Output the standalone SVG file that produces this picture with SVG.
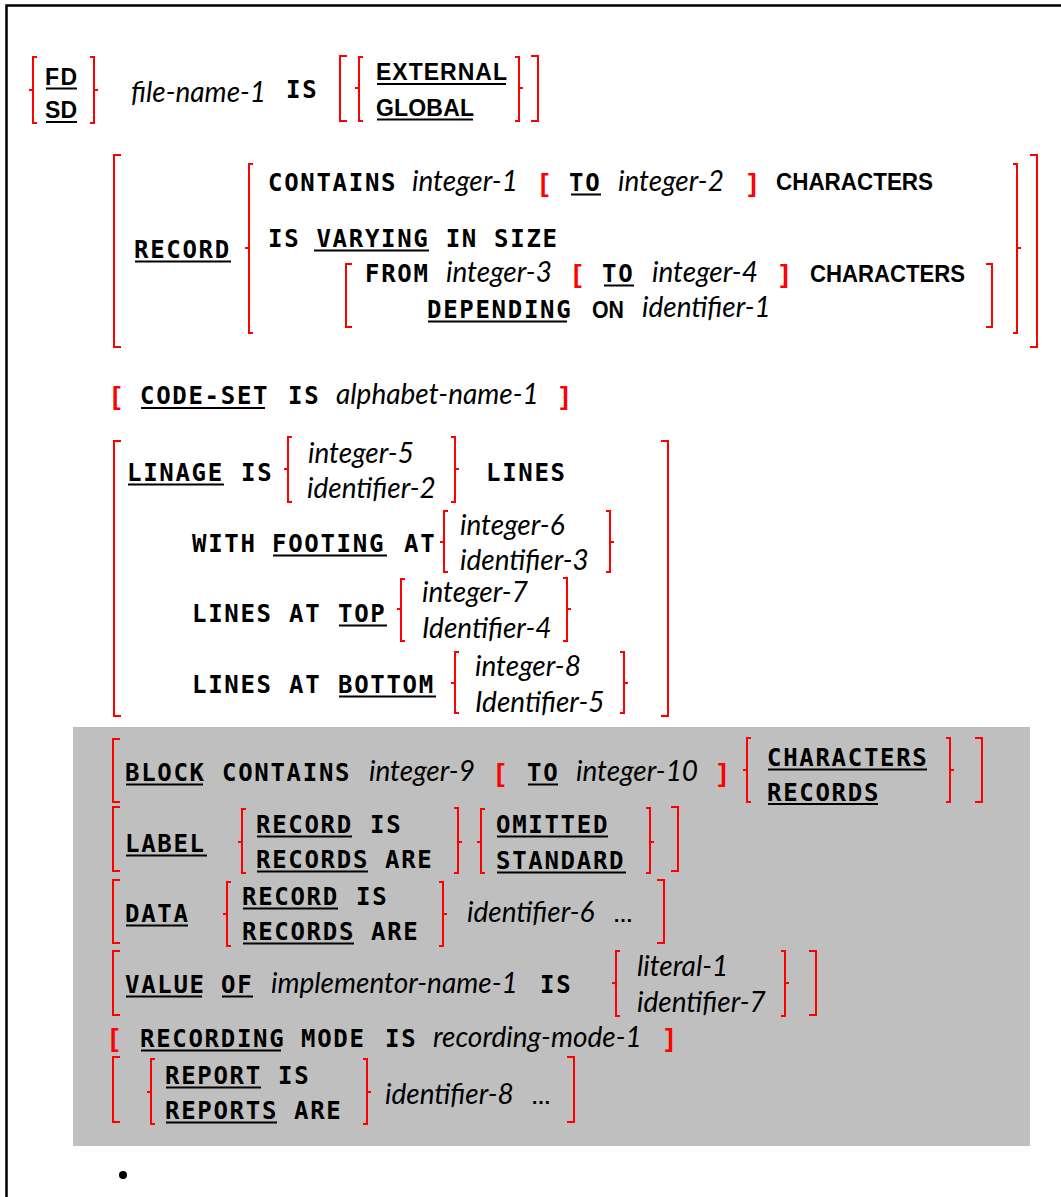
<svg xmlns="http://www.w3.org/2000/svg" width="1061" height="1197" viewBox="0 0 1061 1197">
  <style>
    .k { font-family: "DejaVu Sans Mono", monospace; font-weight: bold; font-size: 24px; letter-spacing: 1.7px; fill: #000; }
    .c { font-family: "Liberation Sans", Arial, sans-serif; font-weight: bold; font-size: 24px; fill: #000; }
    .h { font-family: "Liberation Sans", Arial, sans-serif; font-weight: bold; font-size: 23px; fill: #000; }
    .v { font-family: Lato, "Open Sans", sans-serif; font-style: italic; font-size: 28px; fill: #000; }
    .dots { font-family: "Liberation Sans", Arial, sans-serif; font-weight: bold; font-size: 20px; fill: #000; }
    .rb { font-family: "Liberation Sans", Arial, sans-serif; font-weight: bold; font-size: 26px; fill: #ff0000; }
    .br { fill: none; stroke: #ff0000; stroke-width: 2; }
    .u { fill: #000; }
  </style>

  <!-- page frame -->
  <path d="M6.5,1197V5.5H1061" fill="none" stroke="#000" stroke-width="2.5"/>

  <!-- shaded block of obsolete clauses -->
  <rect id="obsolete-area" x="73" y="727" width="957" height="419" fill="#bfbfbf"/>

  <!-- FD / SD header -->
  <g id="header">
    <path class="br" d="M37,57H33V123H37M33,90H29M90,57H94V123H90M94,90H98"/>
    <text class="h" x="45" y="85" textLength="32" lengthAdjust="spacing">FD</text>
    <rect class="u" x="46" y="87.5" width="31" height="2"/>
    <text class="h" x="45" y="118" textLength="32" lengthAdjust="spacing">SD</text>
    <rect class="u" x="46" y="121" width="31" height="2"/>
    <text class="v" x="131" y="102">file-name-1</text>
    <text class="k" x="286" y="98">IS</text>
    <path class="br" d="M347,56H340V121H347M363,57H359V121H363M359,88H355M515,57H519V121H515M519,88H523M531,56H538V121H531"/>
    <text class="h" x="376" y="80" textLength="131" lengthAdjust="spacing">EXTERNAL</text>
    <rect class="u" x="377" y="83" width="129" height="2"/>
    <text class="h" x="376" y="116" textLength="98" lengthAdjust="spacing">GLOBAL</text>
    <rect class="u" x="377" y="118.5" width="96" height="2"/>
  </g>

  <!-- RECORD clause -->
  <g id="record-clause">
    <path class="br" d="M121,155H114V347H121M253,164H249V333H253M249,248H245M352,264H346V327H352M986,264H992V327H986M1013,164H1017V333H1013M1017,248H1021M1030,155H1037V347H1030"/>
    <text class="k" x="134" y="258">RECORD</text>
    <rect class="u" x="135" y="260.5" width="96" height="2"/>
    <text class="k" x="268" y="191">CONTAINS</text>
    <text class="v" x="412" y="191">integer-1</text>
    <text class="rb" x="540" y="192">[</text>
    <text class="k" x="569" y="191">TO</text>
    <rect class="u" x="571" y="193.5" width="30" height="2"/>
    <text class="v" x="618" y="191">integer-2</text>
    <text class="rb" x="748" y="192">]</text>
    <text class="c" x="776" y="190" textLength="157" lengthAdjust="spacingAndGlyphs">CHARACTERS</text>
    <text class="k" x="268" y="247">IS VARYING IN SIZE</text>
    <rect class="u" x="314" y="249.5" width="115" height="2"/>
    <text class="k" x="365" y="282">FROM</text>
    <text class="v" x="446" y="282">integer-3</text>
    <text class="rb" x="573" y="283">[</text>
    <text class="k" x="602" y="282">TO</text>
    <rect class="u" x="604" y="284.5" width="30" height="2"/>
    <text class="v" x="652" y="282">integer-4</text>
    <text class="rb" x="780" y="283">]</text>
    <text class="c" x="810" y="282" textLength="155" lengthAdjust="spacingAndGlyphs">CHARACTERS</text>
    <text class="k" x="427" y="318">DEPENDING</text>
    <rect class="u" x="428" y="320.5" width="139" height="2"/>
    <text class="c" x="592" y="318" textLength="32" lengthAdjust="spacingAndGlyphs">ON</text>
    <text class="v" x="642" y="317">identifier-1</text>
  </g>

  <!-- CODE-SET clause -->
  <g id="code-set-clause">
    <text class="rb" x="112" y="405">[</text>
    <text class="k" x="140" y="404">CODE-SET</text>
    <rect class="u" x="141" y="407" width="124" height="2"/>
    <text class="k" x="288" y="404">IS</text>
    <text class="v" x="336" y="404">alphabet-name-1</text>
    <text class="rb" x="560" y="405">]</text>
  </g>

  <!-- LINAGE clause -->
  <g id="linage-clause">
    <path class="br" d="M121,441H114V716H121M661,441H668V716H661"/>
    <path class="br" d="M292,437H288V502H292M288,469H284M451,437H455V502H451M455,469H459"/>
    <path class="br" d="M448,511H444V572H448M444,542H440M606,511H610V572H606M610,542H614"/>
    <path class="br" d="M405,579H401V641H405M401,609H397M563,578H567V641H563M567,609H571"/>
    <path class="br" d="M459,652H455V713H459M455,683H451M620,652H624V713H620M624,683H628"/>
    <text class="k" x="127" y="481">LINAGE</text>
    <rect class="u" x="128" y="483.5" width="96" height="2"/>
    <text class="k" x="241" y="481">IS</text>
    <text class="v" x="308" y="463">integer-5</text>
    <text class="v" x="307" y="498">identifier-2</text>
    <text class="k" x="486" y="481">LINES</text>
    <text class="k" x="192" y="552">WITH</text>
    <text class="k" x="272" y="552">FOOTING</text>
    <rect class="u" x="273" y="554.5" width="114" height="2"/>
    <text class="k" x="404" y="552">AT</text>
    <text class="v" x="460" y="535">integer-6</text>
    <text class="v" x="460" y="570">identifier-3</text>
    <text class="k" x="192" y="622">LINES</text>
    <text class="k" x="289" y="622">AT</text>
    <text class="k" x="338" y="622">TOP</text>
    <rect class="u" x="339" y="624.5" width="48" height="2"/>
    <text class="v" x="422" y="602">integer-7</text>
    <text class="v" x="422" y="638">Identifier-4</text>
    <text class="k" x="192" y="693">LINES</text>
    <text class="k" x="289" y="693">AT</text>
    <text class="k" x="338" y="693">BOTTOM</text>
    <rect class="u" x="339" y="695.5" width="97" height="2"/>
    <text class="v" x="475" y="676">integer-8</text>
    <text class="v" x="475" y="712">Identifier-5</text>
  </g>

  <!-- BLOCK CONTAINS clause -->
  <g id="block-clause">
    <path class="br" d="M120,739H113V802H120M751,738H747V802H751M747,770H743M946,738H950V802H946M950,770H954M975,738H982V802H975"/>
    <text class="k" x="125" y="781">BLOCK</text>
    <rect class="u" x="126" y="783.5" width="77" height="2"/>
    <text class="k" x="222" y="781">CONTAINS</text>
    <text class="v" x="369" y="781">integer-9</text>
    <text class="rb" x="496" y="782">[</text>
    <text class="k" x="527" y="781">TO</text>
    <rect class="u" x="528" y="783.5" width="30" height="2"/>
    <text class="v" x="576" y="781">integer-10</text>
    <text class="rb" x="718" y="782">]</text>
    <text class="k" x="767" y="766">CHARACTERS</text>
    <rect class="u" x="768" y="768.5" width="159" height="2"/>
    <text class="k" x="767" y="801">RECORDS</text>
    <rect class="u" x="768" y="803" width="110" height="2"/>
  </g>

  <!-- LABEL RECORDS clause -->
  <g id="label-clause">
    <path class="br" d="M120,807H113V871H120M246,809H242V873H246M242,842H238M454,808H458V873H454M458,842H462M485,809H481V873H485M481,842H477M646,808H650V873H646M650,842H654M671,807H678V871H671"/>
    <text class="k" x="125" y="852">LABEL</text>
    <rect class="u" x="126" y="854.5" width="81" height="2"/>
    <text class="k" x="256" y="833">RECORD</text>
    <rect class="u" x="257" y="835.5" width="95" height="2"/>
    <text class="k" x="370" y="833">IS</text>
    <text class="k" x="256" y="868">RECORDS</text>
    <rect class="u" x="257" y="870.5" width="111" height="2"/>
    <text class="k" x="385" y="868">ARE</text>
    <text class="k" x="496" y="833">OMITTED</text>
    <rect class="u" x="497" y="835.5" width="111" height="2"/>
    <text class="k" x="496" y="869">STANDARD</text>
    <rect class="u" x="497" y="871.5" width="129" height="2"/>
  </g>

  <!-- DATA RECORDS clause -->
  <g id="data-clause">
    <path class="br" d="M120,880H113V943H120M231,882H227V946H231M227,914H223M439,882H443V946H439M443,914H447M657,880H664V943H657"/>
    <text class="k" x="125" y="922">DATA</text>
    <rect class="u" x="126" y="924.5" width="62" height="2"/>
    <text class="k" x="242" y="905">RECORD</text>
    <rect class="u" x="243" y="907.5" width="95" height="2"/>
    <text class="k" x="356" y="905">IS</text>
    <text class="k" x="242" y="940">RECORDS</text>
    <rect class="u" x="243" y="942.5" width="111" height="2"/>
    <text class="k" x="371" y="940">ARE</text>
    <text class="v" x="467" y="922">identifier-6</text>
    <text class="dots" x="613" y="922">…</text>
  </g>

  <!-- VALUE OF clause -->
  <g id="value-clause">
    <path class="br" d="M120,951H113V1015H120M620,951H616V1016H620M616,983H612M781,951H785V1016H781M785,983H789M809,951H816V1015H809"/>
    <text class="k" x="125" y="993">VALUE</text>
    <rect class="u" x="126" y="995.5" width="76" height="2"/>
    <text class="k" x="221" y="993">OF</text>
    <rect class="u" x="222" y="995.5" width="31" height="2"/>
    <text class="v" x="271" y="993">implementor-name-1</text>
    <text class="k" x="540" y="993">IS</text>
    <text class="v" x="637" y="976">literal-1</text>
    <text class="v" x="637" y="1012">identifier-7</text>
  </g>

  <!-- RECORDING MODE clause -->
  <g id="recording-mode-clause">
    <text class="rb" x="110" y="1047">[</text>
    <text class="k" x="140" y="1047">RECORDING</text>
    <rect class="u" x="141" y="1049.5" width="140" height="2"/>
    <text class="k" x="301" y="1047">MODE</text>
    <text class="k" x="385" y="1047">IS</text>
    <text class="v" x="433" y="1047">recording-mode-1</text>
    <text class="rb" x="665" y="1047">]</text>
  </g>

  <!-- REPORT clause -->
  <g id="report-clause">
    <path class="br" d="M120,1057H113V1122H120M155,1059H151V1124H155M151,1092H147M363,1059H367V1124H363M367,1092H371M567,1057H574V1122H567"/>
    <text class="k" x="165" y="1084">REPORT</text>
    <rect class="u" x="166" y="1086.5" width="95" height="2"/>
    <text class="k" x="278" y="1084">IS</text>
    <text class="k" x="165" y="1119">REPORTS</text>
    <rect class="u" x="166" y="1121.5" width="111" height="2"/>
    <text class="k" x="294" y="1119">ARE</text>
    <text class="v" x="385" y="1104">identifier-8</text>
    <text class="dots" x="531" y="1104">…</text>
  </g>

  <!-- trailing bullet -->
  <circle id="bullet" cx="123" cy="1175" r="4" fill="#000"/>

  <!-- no connectors: brackets belong to their clauses -->
  <g id="connectors"/>
</svg>
